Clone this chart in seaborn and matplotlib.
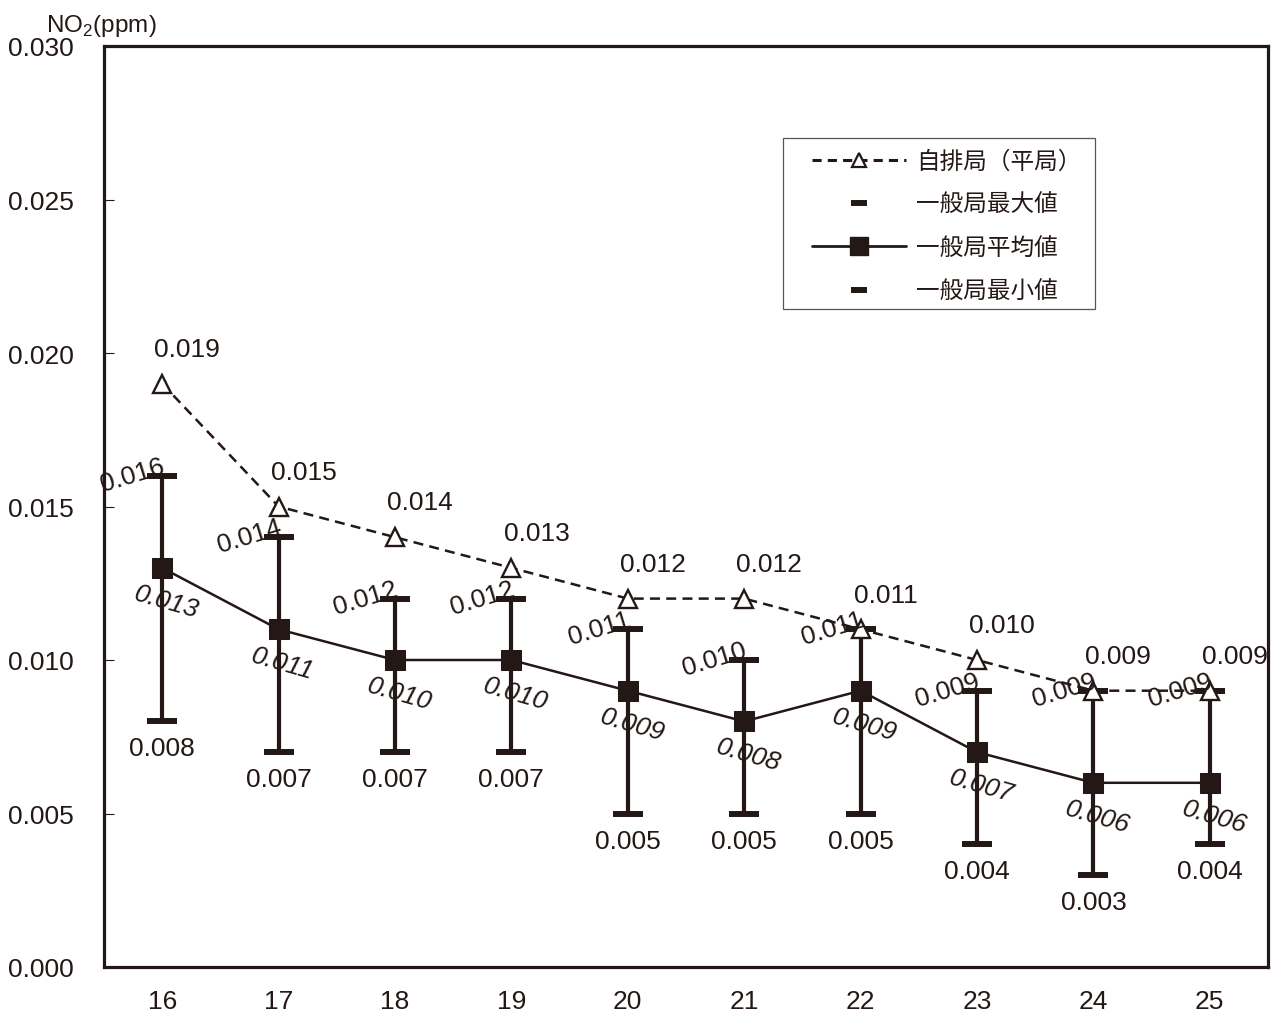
import numpy as np
import pandas as pd
import matplotlib
matplotlib.use("Agg")
import matplotlib.pyplot as plt
from matplotlib.lines import Line2D
from matplotlib.patches import Rectangle
import seaborn as sns

# Fiscal years and NO2 annual values (ppm)
years = ["16", "17", "18", "19", "20", "21", "22", "23", "24", "25"]
roadside_avg = [0.019, 0.015, 0.014, 0.013, 0.012, 0.012, 0.011, 0.010, 0.009, 0.009]
general_max = [0.016, 0.014, 0.012, 0.012, 0.011, 0.010, 0.011, 0.009, 0.009, 0.009]
general_avg = [0.013, 0.011, 0.010, 0.010, 0.009, 0.008, 0.009, 0.007, 0.006, 0.006]
general_min = [0.008, 0.007, 0.007, 0.007, 0.005, 0.005, 0.005, 0.004, 0.003, 0.004]
y_ticks = [0.000, 0.005, 0.010, 0.015, 0.020, 0.025, 0.030]

sns.set_theme(style="white")
plt.rcParams["font.family"] = ["Liberation Sans", "Noto Sans CJK JP", "DejaVu Sans"]
plt.rcParams["mathtext.fontset"] = "custom"
plt.rcParams["mathtext.rm"] = "Liberation Sans"

INK = "#231815"

df = pd.DataFrame({
    "pos": np.arange(len(years)),
    "year": years,
    "roadside": roadside_avg,
    "gmax": general_max,
    "gavg": general_avg,
    "gmin": general_min,
})

fig = plt.figure(figsize=(12.72, 10.12), dpi=100)
ax = fig.add_axes([104 / 1272, 44 / 1012, 1164 / 1272, 921 / 1012])

# range bars for general stations (min .. max)
mean = df["gavg"].to_numpy()
ax.errorbar(df["pos"], mean,
            yerr=[mean - df["gmin"].to_numpy(), df["gmax"].to_numpy() - mean],
            fmt="none", ecolor=INK, elinewidth=3, capsize=11, capthick=4.3, zorder=2)

# general station average
sns.lineplot(data=df, x="pos", y="gavg", ax=ax, color=INK, lw=1.8,
             marker="s", markersize=14, markerfacecolor=INK, markeredgecolor=INK,
             zorder=3)

# roadside station average
sns.lineplot(data=df, x="pos", y="roadside", ax=ax, color=INK, lw=1.8,
             linestyle=(0, (4, 2.5)), marker="^", markersize=12.5,
             markerfacecolor="white", markeredgecolor=INK, markeredgewidth=1.7,
             zorder=4)

fs = 19
for i, row in df.iterrows():
    ax.annotate(f"{row['roadside']:.3f}", xy=(row["pos"], row["roadside"]),
                xytext=(18, 25), textcoords="offset points",
                ha="center", va="center", fontsize=fs, color=INK, zorder=6)
    ax.annotate(f"{row['gmax']:.3f}", xy=(row["pos"], row["gmax"]),
                xytext=(3, 3), textcoords="offset points",
                ha="right", va="baseline", rotation=17, rotation_mode="anchor",
                fontsize=fs, color=INK, zorder=6)
    ax.annotate(f"{row['gavg']:.3f}", xy=(row["pos"], row["gavg"]),
                xytext=(3, -24), textcoords="offset points",
                ha="center", va="center", rotation=-16, rotation_mode="anchor",
                fontsize=fs, style="italic", color=INK, zorder=6)
    ax.annotate(f"{row['gmin']:.3f}", xy=(row["pos"], row["gmin"]),
                xytext=(0, -19.5), textcoords="offset points",
                ha="center", va="center", fontsize=fs, color=INK, zorder=6)

ax.set_xlim(-0.5, len(years) - 0.5)
ax.set_ylim(0, 0.030)
ax.set_xticks(df["pos"])
ax.set_xticklabels(years)
ax.set_yticks(y_ticks)
ax.set_yticklabels([f"{t:.3f}" for t in y_ticks])
ax.set_xlabel("")
ax.set_ylabel("")
ax.tick_params(axis="x", length=0, pad=15.5, labelsize=fs, labelcolor=INK)
ax.tick_params(axis="y", direction="in", length=7, width=0.8, color=INK,
               pad=22, labelsize=fs, labelcolor=INK, left=True)
for sp in ax.spines.values():
    sp.set_visible(True)
    sp.set_color(INK)
    sp.set_linewidth(2.3)

fig.text(46 / 1272, 1 - 26 / 1012, r"NO$_2$(ppm)", fontsize=17.5, color=INK,
         ha="left", va="center")

# legend
handles = [
    Line2D([], [], color=INK, lw=2.2, linestyle=(0, (3, 2)), marker="^",
           markersize=10, markerfacecolor="white", markeredgecolor=INK,
           markeredgewidth=1.6),
    Line2D([], [], ls="none", marker="_", markersize=11, markeredgewidth=4.3,
           color=INK),
    Line2D([], [], color=INK, lw=2.0, marker="s", markersize=12.5,
           markerfacecolor=INK, markeredgecolor=INK),
    Line2D([], [], ls="none", marker="_", markersize=11, markeredgewidth=4.3,
           color=INK),
]
labels = ["自排局（平局）", "一般局最大値", "一般局平均値", "一般局最小値"]
leg = ax.legend(handles, labels, loc="upper left",
                bbox_to_anchor=((812 - 104) / 1164, (968 - 151) / 921),
                frameon=False, borderpad=0, borderaxespad=0,
                handlelength=4.0, handletextpad=0.42, labelspacing=0.86,
                prop={"family": ["Noto Sans CJK JP"], "size": 17})
for t in leg.get_texts():
    t.set_color(INK)
ax.add_patch(Rectangle(((783 - 104) / 1164, (968 - 310) / 921),
                       312 / 1164, 171 / 921, transform=ax.transAxes,
                       fill=False, edgecolor="#555555", lw=0.9, zorder=5))

fig.savefig("out.png", dpi=100)
